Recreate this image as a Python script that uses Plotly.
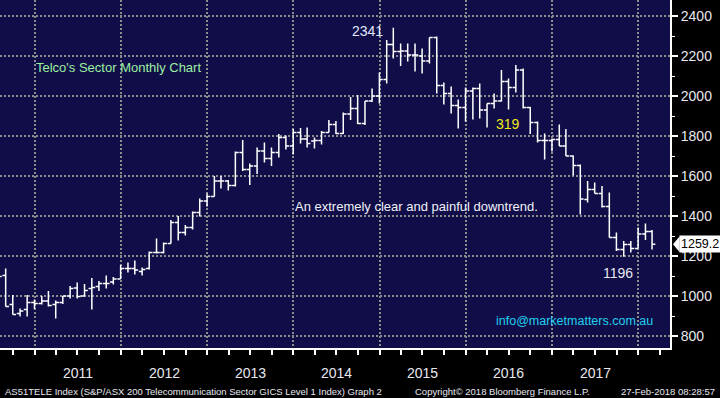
import pandas as pd
import plotly.graph_objects as go

# Monthly bars (month-end), Jul 2010 .. Feb 2018
months = pd.date_range("2010-07-31", periods=92, freq="ME")

opens = [1110, 1103, 958, 913, 933, 968,
         963, 975, 958, 968, 1000, 1040, 1000, 1037, 1047, 1063, 1070, 1085,
         1138, 1138, 1122, 1138, 1218, 1218, 1263, 1368, 1318, 1343, 1418, 1475,
         1497, 1575, 1575, 1552, 1718, 1633, 1650, 1725, 1688, 1718, 1793, 1750,
         1818, 1785, 1775, 1777, 1818, 1858, 1813, 1910, 1938, 1863, 1975, 2000,
         2083, 2258, 2222, 2225, 2205, 2200, 2175, 2293, 2052, 2013, 1952, 1942,
         2025, 2038, 1930, 1963, 1975, 2072, 2043, 2130, 1943, 1868, 1777, 1777,
         1783, 1750, 1700, 1652, 1483, 1533, 1513, 1447, 1293, 1233, 1258, 1238,
         1310, 1322]
highs = [1140, 1138, 1005, 938, 1005, 983,
         1000, 1025, 977, 1000, 1050, 1067, 1060, 1090, 1075, 1103, 1095, 1155,
         1168, 1177, 1142, 1222, 1288, 1268, 1380, 1400, 1355, 1422, 1488, 1513,
         1600, 1600, 1580, 1722, 1780, 1663, 1743, 1768, 1743, 1810, 1802, 1835,
         1840, 1843, 1792, 1825, 1880, 1875, 1918, 1995, 2005, 1975, 2038, 2118,
         2280, 2341, 2263, 2263, 2263, 2238, 2293, 2297, 2068, 2047, 1983, 2043,
         2042, 2063, 1963, 2013, 2130, 2088, 2155, 2138, 1945, 1872, 1813, 1788,
         1858, 1835, 1702, 1658, 1575, 1568, 1550, 1518, 1318, 1275, 1275, 1342,
         1363, 1330]
lows = [1085, 947, 908, 897, 897, 935,
        958, 947, 888, 960, 988, 988, 997, 933, 1025, 1037, 1057, 1085,
        1117, 1108, 1102, 1133, 1212, 1213, 1263, 1277, 1302, 1333, 1397, 1447,
        1497, 1538, 1527, 1547, 1625, 1555, 1610, 1667, 1650, 1692, 1733, 1708,
        1763, 1742, 1737, 1758, 1817, 1810, 1810, 1880, 1860, 1855, 1970, 1963,
        2063, 2188, 2150, 2172, 2122, 2113, 2163, 2013, 1958, 1913, 1838, 1872,
        1883, 1888, 1842, 1938, 1972, 1933, 2017, 1938, 1810, 1768, 1683, 1722,
        1750, 1700, 1602, 1408, 1467, 1513, 1443, 1293, 1225, 1196, 1218, 1238,
        1280, 1233]
closes = [1097, 947, 908, 925, 968, 963,
          975, 952, 968, 1000, 1037, 997, 1028, 1042, 1063, 1063, 1085, 1138,
          1138, 1130, 1133, 1218, 1218, 1263, 1368, 1318, 1343, 1418, 1475, 1497,
          1575, 1575, 1552, 1718, 1633, 1650, 1725, 1688, 1718, 1793, 1750, 1818,
          1785, 1763, 1777, 1818, 1858, 1813, 1910, 1938, 1863, 1975, 2000, 2083,
          2258, 2222, 2225, 2205, 2205, 2175, 2293, 2052, 2013, 1952, 1942, 2025,
          2038, 1930, 1963, 1975, 2072, 2043, 2130, 1943, 1868, 1777, 1777, 1783,
          1750, 1700, 1652, 1485, 1533, 1513, 1447, 1293, 1233, 1258, 1238, 1310,
          1322, 1259.2]

year_grid = ["2011-01-01", "2012-01-01", "2013-01-01", "2014-01-01", "2015-01-01",
             "2016-01-01", "2017-01-01", "2018-01-01"]
year_labels = ["2011", "2012", "2013", "2014", "2015", "2016", "2017"]
year_label_pos = ["2011-07-02", "2012-07-02", "2013-07-02", "2014-07-02", "2015-07-02",
                  "2016-07-02", "2017-07-02"]
quarter_ticks = pd.date_range("2010-10-01", "2018-04-01", freq="QS")
y_ticks = [800, 1000, 1200, 1400, 1600, 1800, 2000, 2200, 2400]
last_price = 1259.2

NAVY = "#100d48"
GRID = "#8c8c8c"
FONT = "Liberation Sans"

fig = go.Figure(go.Ohlc(
    x=months, open=opens, high=highs, low=lows, close=closes,
    increasing=dict(line=dict(color="white", width=1.5)),
    decreasing=dict(line=dict(color="white", width=1.5)),
    tickwidth=0.5, hoverinfo="skip", showlegend=False,
))

fig.update_layout(
    width=720, height=398,
    margin=dict(l=0, r=50, t=0, b=50, autoexpand=False),
    paper_bgcolor="black", plot_bgcolor=NAVY,
    showlegend=False,
    font=dict(family=FONT, color="#e8e8f0"),
    xaxis=dict(
        type="date", range=["2010-08-07", "2018-05-15"],
        rangeslider=dict(visible=False),
        tickvals=year_grid, ticktext=[""] * len(year_grid),
        showgrid=True, gridcolor=GRID, griddash="2px,2px", gridwidth=2,
        ticks="outside", ticklen=34, tickcolor=GRID, tickwidth=1,
        showline=True, linecolor="white", linewidth=2, zeroline=False,
        minor=dict(tickvals=list(quarter_ticks), ticks="outside", ticklen=5,
                   tickcolor="white", tickwidth=1.5, showgrid=False),
    ),
    yaxis=dict(
        side="right", range=[740, 2480],
        tickvals=y_ticks, ticktext=[str(v) for v in y_ticks],
        showgrid=True, gridcolor=GRID, griddash="2px,2px", gridwidth=2,
        ticks="outside", ticklen=6, tickwidth=2, tickcolor="white",
        showline=True, linecolor="white", linewidth=2, zeroline=False,
        tickfont=dict(family=FONT, size=14, color="#e8e8f0"),
        minor=dict(dtick=100, ticks="outside", ticklen=3, tickcolor="white",
                   tickwidth=1, showgrid=False),
    ),
)

ann = []
for pos, lab in zip(year_label_pos, year_labels):
    ann.append(dict(x=pos, y=-0.072, xref="x", yref="paper", text=lab,
                    showarrow=False, xanchor="center", yanchor="middle",
                    font=dict(family=FONT, size=14, color="#e8e8f0")))

ann += [
    dict(x=0.0507, y=0.806, xref="paper", yref="paper", text="Telco's Sector Monthly Chart",
         showarrow=False, xanchor="left", yanchor="middle",
         font=dict(family=FONT, size=13, color="#9cf0a0")),
    dict(x=0.437, y=0.408, xref="paper", yref="paper",
         text="An extremely clear and painful downtrend.",
         showarrow=False, xanchor="left", yanchor="middle",
         font=dict(family=FONT, size=13, color="#f0f0f8")),
    dict(x=0.737, y=0.0784, xref="paper", yref="paper", text="info@marketmatters.com.au",
         showarrow=False, xanchor="left", yanchor="middle",
         font=dict(family=FONT, size=12.5, color="#22d0f0")),
    dict(x="2015-02-28", y=2325, xref="x", yref="y", text="2341", showarrow=False,
         xanchor="right", yanchor="middle", xshift=-8,
         font=dict(family=FONT, size=14, color="#e0e8ff")),
    dict(x="2016-04-30", y=1858, xref="x", yref="y", text="319", showarrow=False,
         xanchor="left", yanchor="middle",
         font=dict(family=FONT, size=14, color="#f0e81a")),
    dict(x="2017-10-31", y=1115, xref="x", yref="y", text="1196", showarrow=False,
         xanchor="center", yanchor="middle", xshift=-6,
         font=dict(family=FONT, size=14, color="#e8e8f0")),
    dict(x=1.0, y=last_price, xref="paper", yref="y", text=str(last_price),
         showarrow=False, xanchor="left", yanchor="middle", xshift=9,
         bgcolor="white", borderpad=1,
         font=dict(family=FONT, size=12.5, color="black")),
    dict(x=0.004, y=-0.1236, xref="paper", yref="paper",
         text="AS51TELE Index (S&amp;P/ASX 200 Telecommunication Sector GICS Level 1 Index) Graph 2",
         showarrow=False, xanchor="left", yanchor="middle",
         font=dict(family=FONT, size=9.5, color="#e8e8f0")),
    dict(x=0.616, y=-0.1236, xref="paper", yref="paper",
         text="Copyright\u00a9 2018 Bloomberg Finance L.P.",
         showarrow=False, xanchor="left", yanchor="middle",
         font=dict(family=FONT, size=9.5, color="#e8e8f0")),
    dict(x=1.07, y=-0.1236, xref="paper", yref="paper",
         text="27-Feb-2018 08:28:57",
         showarrow=False, xanchor="right", yanchor="middle",
         font=dict(family=FONT, size=9.5, color="#e8e8f0")),
]
fig.update_layout(annotations=ann)

fig.add_shape(type="path", xref="paper", yref="y",
              path=f"M 1.0045,{last_price} L 1.0145,{last_price + 40} L 1.0145,{last_price - 40} Z",
              fillcolor="white", line=dict(width=0), layer="above")

fig.write_html("out.html", config={"displayModeBar": False},
               post_script="document.body.style.margin='0';document.body.style.overflow='hidden';")
